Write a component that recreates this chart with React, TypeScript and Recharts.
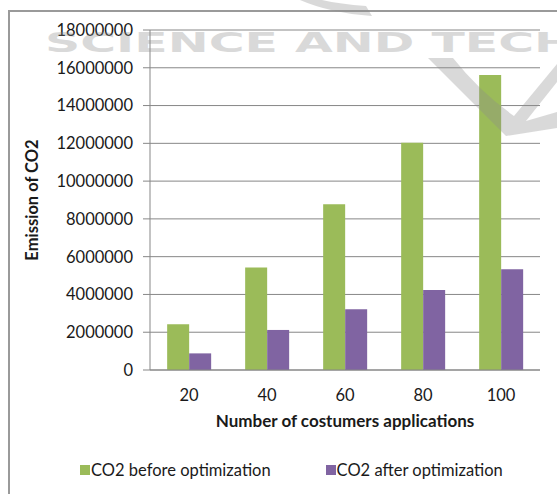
import React from 'react';
import { BarChart, Bar, XAxis, YAxis, CartesianGrid, Legend } from 'recharts';

const categories = ['20', '40', '60', '80', '100'];
const co2Before = [2420000, 5420000, 8770000, 12030000, 15620000];
const co2After = [880000, 2120000, 3210000, 4230000, 5340000];
const yTicks = [0, 2000000, 4000000, 6000000, 8000000, 10000000, 12000000, 14000000, 16000000, 18000000];
// category boundaries, used for the tick marks between groups
const boundaryTicks = [0, 1, 2, 3, 4, 5];

const seriesNames = ['CO2 before optimization', 'CO2 after optimization'];
const GREEN = '#9bbb59';
const PURPLE = '#8064a2';
const GRID = '#878787';
const FONT = 'Lato, "Open Sans", sans-serif';

const data = categories.map((c, i) => ({ name: c, before: co2Before[i], after: co2After[i] }));

const YTitle = (props: any) => {
    const vb = props.viewBox || { x: 0, y: 0, width: 0, height: 0 };
    const cx = vb.x + 32;
    const cy = vb.y + vb.height / 2;
    return (
        <text x={cx} y={cy} transform={`rotate(-90 ${cx} ${cy})`} textAnchor="middle" dominantBaseline="central"
            fontFamily={FONT} fontWeight={700} fontSize={16.5} fill="#1a1a1a">
            Emission of CO2
        </text>
    );
};

const XTitle = (props: any) => {
    const vb = props.viewBox || { x: 0, y: 0, width: 0, height: 0 };
    return (
        <text x={vb.x + vb.width / 2} y={vb.y + 57} textAnchor="middle"
            fontFamily={FONT} fontWeight={700} fontSize={17} fill="#1a1a1a">
            Number of costumers applications
        </text>
    );
};

const LegendBox = () => (
    <div style={{ display: 'flex', fontFamily: FONT, fontSize: 16.5, color: '#1a1a1a' }}>
        {seriesNames.map((n, i) => (
            <div key={n} style={{ display: 'flex', alignItems: 'center', marginLeft: i === 0 ? 80 : 55 }}>
                <span style={{ width: 10, height: 10, background: i === 0 ? GREEN : PURPLE, marginRight: 1 }} />
                <span>{n}</span>
            </div>
        ))}
    </div>
);

export default function App() {
    return (
        <div style={{ position: 'absolute', left: 0, top: 0, width: 557, height: 494, overflow: 'hidden', background: '#fff' }}>
            <div style={{ position: 'absolute', left: 8, top: 10, width: 560, height: 500, borderTop: '2px solid #9a9a9a', borderLeft: '2px solid #9a9a9a', boxSizing: 'border-box' }} />
            <BarChart width={557} height={494} data={data} margin={{ top: 30, right: 17, left: 0, bottom: 94 }}
                barCategoryGap="22%" barGap={0}>
                <CartesianGrid vertical={false} stroke={GRID} strokeWidth={1} />
                <XAxis xAxisId={0} type="number" domain={[0, 5]} ticks={boundaryTicks} tick={false}
                    axisLine={false} tickLine={{ stroke: GRID }} tickSize={6} height={0} allowDataOverflow />
                <XAxis xAxisId="cat" dataKey="name" height={30} tickSize={0} tickLine={false} tickMargin={19}
                    axisLine={{ stroke: GRID }} tick={{ fontFamily: FONT, fontSize: 16.5, fill: '#1a1a1a' }}
                    label={<XTitle />} />
                <YAxis width={150} domain={[0, 18000000]} ticks={yTicks} interval={0} tickSize={7} tickMargin={10}
                    axisLine={{ stroke: GRID }} tickLine={{ stroke: GRID }}
                    tick={{ fontFamily: FONT, fontSize: 16.5, fill: '#1a1a1a' }}
                    label={<YTitle />} />
                <Bar xAxisId="cat" dataKey="before" name={seriesNames[0]} fill={GREEN} isAnimationActive={false} />
                <Bar xAxisId="cat" dataKey="after" name={seriesNames[1]} fill={PURPLE} isAnimationActive={false} />
                <Legend verticalAlign="middle" content={<LegendBox />}
                    wrapperStyle={{ top: 460, left: 0, width: 557 }} />
            </BarChart>
            {/* publisher watermark lying over the chart */}
            <svg width={557} height={494} style={{ position: 'absolute', left: 0, top: 0, pointerEvents: 'none' }}>
                <g fill="#8c8c8c" opacity={0.32}>
                    <text x={45} y={52} fontFamily="DejaVu Sans" fontWeight={700} fontSize={27}
                        textLength={530} lengthAdjust="spacingAndGlyphs">SCIENCE AND TECH</text>
                    <path d="M 300 0 Q 330 13 372 16 L 366 6 Q 340 4 322 0 Z" />
                    <path d="M 428 58 L 453 58 Q 480 92 514 116 L 557 64 L 557 82 L 526 121 L 557 112 L 557 128 L 506 136 Q 470 100 428 58 Z" />
                </g>
            </svg>
        </div>
    );
}
